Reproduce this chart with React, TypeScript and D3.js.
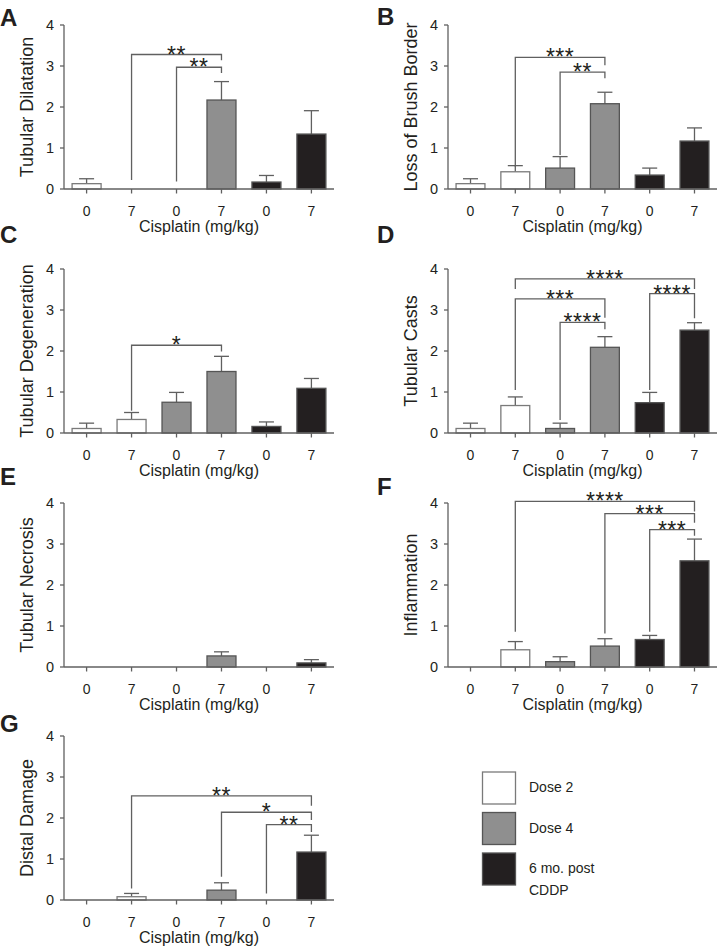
import React from "react";
import * as d3 from "d3";

// ---------- data ----------
const categories = ["0", "7", "0", "7", "0", "7"];
const groupOfBar = [0, 0, 1, 1, 2, 2];
const groupNames = ["Dose 2", "Dose 4", "6 mo. post CDDP"];
const yTicks = [0, 1, 2, 3, 4];
const xAxisTitle = "Cisplatin (mg/kg)";

const dilatationMean = [0.13, 0, 0, 2.17, 0.17, 1.34];
const dilatationSem = [0.12, 0, 0, 0.45, 0.16, 0.57];
const brushMean = [0.13, 0.42, 0.51, 2.08, 0.34, 1.17];
const brushSem = [0.12, 0.15, 0.28, 0.28, 0.17, 0.32];
const degenerationMean = [0.11, 0.33, 0.75, 1.5, 0.16, 1.09];
const degenerationSem = [0.13, 0.17, 0.24, 0.37, 0.11, 0.24];
const castsMean = [0.11, 0.67, 0.11, 2.09, 0.74, 2.51];
const castsSem = [0.13, 0.21, 0.13, 0.26, 0.25, 0.18];
const necrosisMean = [0, 0, 0, 0.27, 0, 0.1];
const necrosisSem = [0, 0, 0, 0.1, 0, 0.08];
const inflammationMean = [0, 0.42, 0.13, 0.51, 0.67, 2.59];
const inflammationSem = [0, 0.2, 0.12, 0.18, 0.1, 0.53];
const distalMean = [0, 0.08, 0, 0.24, 0, 1.17];
const distalSem = [0, 0.08, 0, 0.18, 0, 0.41];

// brackets: [fromBar, toBar, topValue, leftLegEnd, rightLegEnd, label]
type Bracket = [number, number, number, number, number, string];
const dilatationSig: Bracket[] = [
  [1, 3, 3.28, 0.22, 3.14, "**"],
  [2, 3, 2.97, 0.18, 2.83, "**"],
];
const brushSig: Bracket[] = [
  [1, 3, 3.21, 0.54, 3.02, "***"],
  [2, 3, 2.85, 0.83, 2.7, "**"],
];
const degenerationSig: Bracket[] = [[1, 3, 2.14, 0.54, 1.99, "*"]];
const castsSig: Bracket[] = [
  [1, 5, 3.76, 3.51, 3.51, "****"],
  [1, 3, 3.27, 1.05, 2.81, "***"],
  [2, 3, 2.7, 0.32, 2.53, "****"],
  [4, 5, 3.4, 1.05, 2.8, "****"],
];
const necrosisSig: Bracket[] = [];
const inflammationSig: Bracket[] = [
  [1, 5, 4.04, 0.86, 3.79, "****"],
  [3, 5, 3.74, 0.82, 3.52, "***"],
  [4, 5, 3.35, 0.86, 3.2, "***"],
];
const distalSig: Bracket[] = [
  [1, 5, 2.54, 0.28, 2.3, "**"],
  [3, 5, 2.14, 0.57, 1.95, "*"],
  [4, 5, 1.84, 0.16, 1.66, "**"],
];

// ---------- style ----------
const FONT = "'Liberation Sans', Arial, sans-serif";
const TEXT = "#231f20";
const AXIS = "#606060";
const fills = ["#ffffff", "#8f8f8f", "#231f20"];
const strokes = ["#7a7a7a", "#555555", "#555555"];

type PanelProps = {
  letter: string;
  letterX: number;
  letterY: number;
  title: string;
  means: number[];
  sems: number[];
  sig: Bracket[];
  x0: number;
  x1: number;
  yTop: number;
  yBot: number;
};

function Panel(p: PanelProps) {
  const x = d3
    .scaleBand<number>()
    .domain(d3.range(categories.length))
    .range([p.x0, p.x1])
    .paddingInner(0.355)
    .paddingOuter(0.18);
  const y = d3.scaleLinear().domain([0, 4]).range([p.yBot, p.yTop]);
  const cx = (i: number) => (x(i) as number) + x.bandwidth() / 2;
  const bw = x.bandwidth();
  const cap = 15;
  return (
    <g>
      <text
        x={p.letterX}
        y={p.letterY}
        fontFamily={FONT}
        fontWeight="bold"
        fontSize={24}
        fill={TEXT}
      >
        {p.letter}
      </text>
      {/* bars */}
      {p.means.map((m, i) =>
        m > 0 ? (
          <g key={"b" + i}>
            <line
              x1={cx(i)}
              x2={cx(i)}
              y1={y(m)}
              y2={y(m + p.sems[i])}
              stroke={AXIS}
              strokeWidth={1.3}
            />
            <line
              x1={cx(i) - cap / 2}
              x2={cx(i) + cap / 2}
              y1={y(m + p.sems[i])}
              y2={y(m + p.sems[i])}
              stroke={AXIS}
              strokeWidth={1.3}
            />
            <rect
              x={x(i)}
              y={y(m)}
              width={bw}
              height={y(0) - y(m)}
              fill={fills[groupOfBar[i]]}
              stroke={strokes[groupOfBar[i]]}
              strokeWidth={1.3}
            />
          </g>
        ) : null
      )}
      {/* y axis */}
      <line x1={p.x0} x2={p.x0} y1={y(0)} y2={y(4)} stroke={AXIS} strokeWidth={1.3} />
      {yTicks.map((t) => (
        <g key={"yt" + t}>
          <line x1={p.x0 - 4} x2={p.x0} y1={y(t)} y2={y(t)} stroke={AXIS} strokeWidth={1.3} />
          <text
            x={p.x0 - 10}
            y={y(t) + 5}
            textAnchor="end"
            fontFamily={FONT}
            fontSize={14.5}
            fill={TEXT}
          >
            {t}
          </text>
        </g>
      ))}
      {/* x axis */}
      <line x1={p.x0} x2={p.x1} y1={y(0)} y2={y(0)} stroke={AXIS} strokeWidth={1.3} />
      {categories.map((c, i) => (
        <g key={"xt" + i}>
          <line x1={cx(i)} x2={cx(i)} y1={y(0)} y2={y(0) + 4.5} stroke={AXIS} strokeWidth={1.3} />
          <text
            x={cx(i)}
            y={y(0) + 27}
            textAnchor="middle"
            fontFamily={FONT}
            fontSize={14}
            fill={TEXT}
          >
            {c}
          </text>
        </g>
      ))}
      <text
        x={(p.x0 + p.x1) / 2}
        y={y(0) + 43}
        textAnchor="middle"
        fontFamily={FONT}
        fontSize={16}
        fill={TEXT}
      >
        {xAxisTitle}
      </text>
      <text
        transform={`translate(${p.x0 - 31},${(y(0) + y(4)) / 2}) rotate(-90)`}
        textAnchor="middle"
        fontFamily={FONT}
        fontSize={18}
        fill={TEXT}
      >
        {p.title}
      </text>
      {/* significance brackets */}
      {p.sig.map((b, k) => {
        const xl = cx(b[0]);
        const xr = cx(b[1]);
        return (
          <g key={"s" + k}>
            <path
              d={`M${xl},${y(b[3])}V${y(b[2])}H${xr}V${y(b[4])}`}
              fill="none"
              stroke={AXIS}
              strokeWidth={1.3}
            />
            <text
              x={(xl + xr) / 2}
              y={y(b[2]) + 8}
              textAnchor="middle"
              fontFamily={FONT}
              fontSize={23}
              letterSpacing={0.5}
              fill={TEXT}
            >
              {b[5]}
            </text>
          </g>
        );
      })}
    </g>
  );
}

function Legend() {
  const boxY = d3.scaleLinear().domain([0, 2]).range([772, 853]);
  return (
    <g>
      {groupNames.map((g, i) => {
        const words = i === 2 ? ["6 mo. post", "CDDP"] : [g];
        return (
          <g key={g}>
            <rect
              x={482.5}
              y={boxY(i)}
              width={33}
              height={32}
              fill={fills[i]}
              stroke={strokes[i]}
              strokeWidth={1.3}
            />
            {words.map((w, j) => (
              <text
                key={w}
                x={529}
                y={boxY(i) + 20 + j * 22}
                fontFamily={FONT}
                fontSize={14}
                fill={TEXT}
              >
                {w}
              </text>
            ))}
          </g>
        );
      })}
    </g>
  );
}

export default function App() {
  const L = { x0: 64, x1: 334 };
  const R = { x0: 448, x1: 717 };
  return (
    <svg
      width={719}
      height={949}
      style={{ position: "absolute", left: 0, top: 0, background: "#fff" }}
    >
      <rect width={719} height={949} fill="#fff" />
      <Panel letter="A" letterX={0} letterY={26} title="Tubular Dilatation" means={dilatationMean} sems={dilatationSem} sig={dilatationSig} {...L} yTop={25} yBot={189} />
      <Panel letter="B" letterX={377} letterY={25} title="Loss of Brush Border" means={brushMean} sems={brushSem} sig={brushSig} {...R} yTop={25} yBot={189} />
      <Panel letter="C" letterX={0} letterY={243} title="Tubular Degeneration" means={degenerationMean} sems={degenerationSem} sig={degenerationSig} {...L} yTop={269} yBot={433} />
      <Panel letter="D" letterX={377} letterY={243} title="Tubular Casts" means={castsMean} sems={castsSem} sig={castsSig} {...R} yTop={269} yBot={433} />
      <Panel letter="E" letterX={0} letterY={485} title="Tubular Necrosis" means={necrosisMean} sems={necrosisSem} sig={necrosisSig} {...L} yTop={503} yBot={667} />
      <Panel letter="F" letterX={377} letterY={495} title="Inflammation" means={inflammationMean} sems={inflammationSem} sig={inflammationSig} {...R} yTop={503} yBot={667} />
      <Panel letter="G" letterX={0} letterY={732} title="Distal Damage" means={distalMean} sems={distalSem} sig={distalSig} {...L} yTop={736} yBot={900} />
      <Legend />
    </svg>
  );
}
